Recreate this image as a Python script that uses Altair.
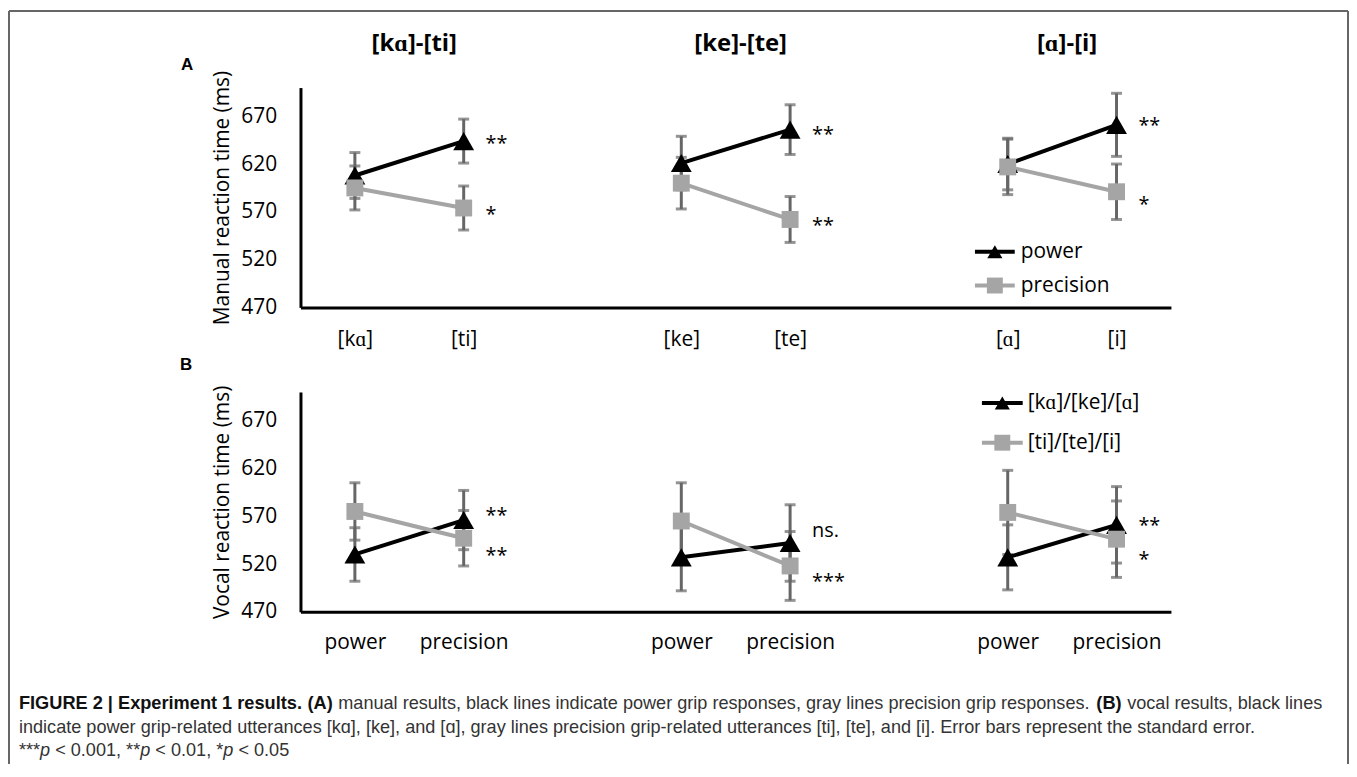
import altair as alt
import pandas as pd

# ---------------- data ----------------
positions = [0, 1, 3, 4, 6, 7]
groups = [0, 0, 1, 1, 2, 2]
x_labels_A = ["[kɑ]", "[ti]", "[ke]", "[te]", "[ɑ]", "[i]"]
x_labels_B = ["power", "precision", "power", "precision", "power", "precision"]
panel_titles = ["[kɑ]-[ti]", "[ke]-[te]", "[ɑ]-[i]"]
title_centers = [0.5, 3.5, 6.5]
y_ticks = [470, 520, 570, 620, 670]

series_A = ["power", "precision"]
A_power = [608, 644, 621, 656, 620, 661]
A_power_se = [24, 23, 28, 26, 27, 33]
A_precision = [595, 574, 600, 562, 617, 591]
A_precision_se = [23, 23, 27, 24, 29, 29]

series_B = ["[kɑ]/[ke]/[ɑ]", "[ti]/[te]/[i]"]
B_k = [530, 566, 527, 542, 527, 561]
B_k_se = [28, 31, 35, 40, 34, 40]
B_t = [575, 547, 565, 518, 574, 546]
B_t_se = [30, 29, 40, 36, 44, 40]

sig_A_pos = [1, 1, 4, 4, 7, 7]
sig_A_y = [647, 573, 657, 561, 666, 583]
sig_A_text = ["**", "*", "**", "**", "**", "*"]
sig_B_pos = [1, 1, 4, 4, 7, 7]
sig_B_y = [576, 535, 555, 507, 566, 530]
sig_B_text = ["**", "**", "ns.", "***", "**", "*"]

y_title_A = "Manual reaction time (ms)"
y_title_B = "Vocal reaction time (ms)"

caption_1 = ["FIGURE 2 | Experiment 1 results.", "(A)",
             "manual results, black lines indicate power grip responses, gray lines precision grip responses.",
             "(B)", "vocal results, black lines"]
caption_1_bold = [True, True, False, True, False]
caption_2 = ("indicate power grip-related utterances [kɑ], [ke], and [ɑ], gray lines precision "
             "grip-related utterances [ti], [te], and [i]. Error bars represent the standard error.")
caption_3 = ["***", "p", " < 0.001, **", "p", " < 0.01, *", "p", " < 0.05"]
caption_3_italic = [False, True, False, True, False, True, False]

# ---------------- style ----------------
FONT = "Open Sans"
CAP_FONT = "Liberation Sans"
BLACK = "#000000"
GRAY = "#a5a5a5"
ERR = "#666666"
W, H = 875, 221
CAP_SIZE = 18.2
CAP_BOLD_SIZE = 18.3

one = pd.DataFrame({"k": [0]})

# Arial / Liberation Sans advance widths (em) for the characters of the p-value line
ARIAL_W = {"*": 0.389, "p": 0.556, " ": 0.278, "<": 0.584, "0": 0.556, ".": 0.278,
           "1": 0.556, ",": 0.278, "5": 0.556}


def make_df(names, v1, e1, v2, e2):
    rows = []
    for name, vals, errs in ((names[0], v1, e1), (names[1], v2, e2)):
        for p, g, v, e in zip(positions, groups, vals, errs):
            rows.append({"series": name, "pos": p, "grp": g, "val": v, "lo": v - e, "hi": v + e})
    return pd.DataFrame(rows)


def label_expr(labels):
    expr = "''"
    for p, lab in reversed(list(zip(positions, labels))):
        expr = f"datum.value == {p} ? '{lab}' : {expr}"
    return expr


xscale = alt.Scale(domain=[-0.5, 7.5], nice=False, zero=False)
yscale = alt.Scale(domain=[470, 700], nice=False, zero=False)


def text_at(txt, px, py, size, weight="normal", color="#000", font=FONT, align="left", style="normal"):
    return alt.Chart(one).mark_text(
        text=txt, align=align, baseline="middle", font=font, fontSize=size,
        fontWeight=weight, fontStyle=style, color=color
    ).encode(x=alt.value(px), y=alt.value(py))


def legend(names, x0, x1, xt, rows_y, tri_size, sq_size, font_size):
    layers = []
    shapes = ["triangle-up", "square"]
    cols = [BLACK, GRAY]
    sizes = [tri_size, sq_size]
    for name, yy, shp, col, sz in zip(names, rows_y, shapes, cols, sizes):
        layers.append(alt.Chart(one).mark_rule(color=col, strokeWidth=4).encode(
            x=alt.value(x0), x2=alt.value(x1), y=alt.value(yy)))
        layers.append(alt.Chart(one).mark_point(shape=shp, filled=True, opacity=1, color=col, size=sz).encode(
            x=alt.value((x0 + x1) / 2), y=alt.value(yy)))
        layers.append(text_at(name, xt, yy, font_size))
    return layers


def panel(df, names, xlabels, ytitle, sig_pos, sig_y, sig_text, label_pad):
    ax_x = alt.Axis(values=positions, labelExpr=label_expr(xlabels), title=None, ticks=False,
                    grid=False, domainColor="black", domainWidth=3, labelFont=FONT,
                    labelFontSize=21, labelColor="black", labelPadding=label_pad,
                    labelFlush=False, labelOverlap=False)
    ax_y = alt.Axis(values=y_ticks, title=ytitle, ticks=False, grid=False, domainColor="black",
                    domainWidth=3, labelFont=FONT, labelFontSize=21, labelColor="black",
                    labelPadding=24, titleFont=FONT, titleFontSize=21, titleFontWeight="normal",
                    titleColor="black", titlePadding=8)

    def X():
        return alt.X("pos:Q", scale=xscale, axis=ax_x)

    def Y(field):
        return alt.Y(field + ":Q", scale=yscale, axis=ax_y)

    base = alt.Chart(df)
    err = base.mark_rule(color=ERR, strokeWidth=3).encode(x=X(), y=Y("lo"), y2="hi:Q")
    cap_lo = base.mark_tick(color=ERR, thickness=3, size=11, orient="horizontal").encode(x=X(), y=Y("lo"))
    cap_hi = base.mark_tick(color=ERR, thickness=3, size=11, orient="horizontal").encode(x=X(), y=Y("hi"))
    lines = base.mark_line(strokeWidth=4).encode(
        x=X(), y=Y("val"),
        color=alt.Color("series:N", scale=alt.Scale(domain=names, range=[BLACK, GRAY]), legend=None),
        detail="grp:N")
    pts_1 = base.transform_filter(alt.datum.series == names[0]).mark_point(
        shape="triangle-up", filled=True, opacity=1, color=BLACK, size=440).encode(x=X(), y=Y("val"))
    pts_2 = base.transform_filter(alt.datum.series == names[1]).mark_point(
        shape="square", filled=True, opacity=1, color=GRAY, size=289).encode(x=X(), y=Y("val"))

    sig = alt.Chart(pd.DataFrame({"pos": sig_pos, "val": sig_y, "label": sig_text}))
    sig_star = sig.transform_filter("datum.label != 'ns.'").mark_text(
        align="left", baseline="middle", dx=22, dy=6, font=FONT, fontSize=20, color="black").encode(
        x=X(), y=Y("val"), text="label:N")
    sig_ns = sig.transform_filter("datum.label == 'ns.'").mark_text(
        align="left", baseline="middle", dx=22, font=FONT, fontSize=20, color="black").encode(
        x=X(), y=Y("val"), text="label:N")
    return [err, cap_lo, cap_hi, lines, pts_1, pts_2, sig_star, sig_ns], X


df_A = make_df(series_A, A_power, A_power_se, A_precision, A_precision_se)
df_B = make_df(series_B, B_k, B_k_se, B_t, B_t_se)

# ---------- panel A ----------
layers_A, XA = panel(df_A, series_A, x_labels_A, y_title_A, sig_A_pos, sig_A_y, sig_A_text, 21)
titles = alt.Chart(pd.DataFrame({"pos": title_centers, "t": panel_titles})).mark_text(
    align="center", baseline="middle", dx=5, font=FONT, fontSize=24, fontWeight="bold", color="black").encode(
    x=XA(), y=alt.value(-44), text="t:N")
layers_A.append(titles)
layers_A.append(text_at("A", -114, -23, 17, weight="bold", font=CAP_FONT, align="center"))
layers_A += legend(series_A, 678, 718, 724, [165, 199], 230, 256, 21)
# figure frame
frame_col = "#666666"
layers_A.append(alt.Chart(one).mark_rule(color=frame_col, strokeWidth=2).encode(
    x=alt.value(-293), x2=alt.value(1053), y=alt.value(-77)))
layers_A.append(alt.Chart(one).mark_rule(color=frame_col, strokeWidth=2).encode(
    x=alt.value(-293), y=alt.value(-77), y2=alt.value(680)))
layers_A.append(alt.Chart(one).mark_rule(color=frame_col, strokeWidth=2).encode(
    x=alt.value(1053), y=alt.value(-77), y2=alt.value(680)))
chart_A = alt.layer(*layers_A).properties(width=W, height=H)

# ---------- panel B ----------
layers_B, XB = panel(df_B, series_B, x_labels_B, y_title_B, sig_B_pos, sig_B_y, sig_B_text, 20)
layers_B.append(text_at("B", -115, -27, 17, weight="bold", font=CAP_FONT, align="center"))
layers_B += legend(series_B, 685, 726, 731, [11, 51], 230, 256, 21)

# caption (positions in panel B pixel coordinates)
cap_x = [-283, 7, 38, 800, 831]
for txt, bold, cx in zip(caption_1, caption_1_bold, cap_x):
    layers_B.append(text_at(txt, cx, 314, CAP_BOLD_SIZE if bold else CAP_SIZE,
                            weight="bold" if bold else "normal",
                            color="#111" if bold else "#333", font=CAP_FONT))
layers_B.append(text_at(caption_2, -283, 338, CAP_SIZE, color="#333", font=CAP_FONT))
cx = -283.0
for seg, ital in zip(caption_3, caption_3_italic):
    lead = len(seg) - len(seg.lstrip(" "))
    start = cx + lead * ARIAL_W[" "] * CAP_SIZE
    layers_B.append(text_at(seg.lstrip(" "), start, 361, CAP_SIZE, color="#333", font=CAP_FONT,
                            style="italic" if ital else "normal"))
    cx += sum(ARIAL_W.get(c, 0.556) for c in seg) * CAP_SIZE
chart_B = alt.layer(*layers_B).properties(width=W, height=H)

chart = alt.vconcat(chart_A, chart_B, spacing=85, bounds="flush").properties(
    padding=0, background="white"
).configure_view(stroke=None)

chart.save("out.html", embed_options={"renderer": "svg", "actions": False})
